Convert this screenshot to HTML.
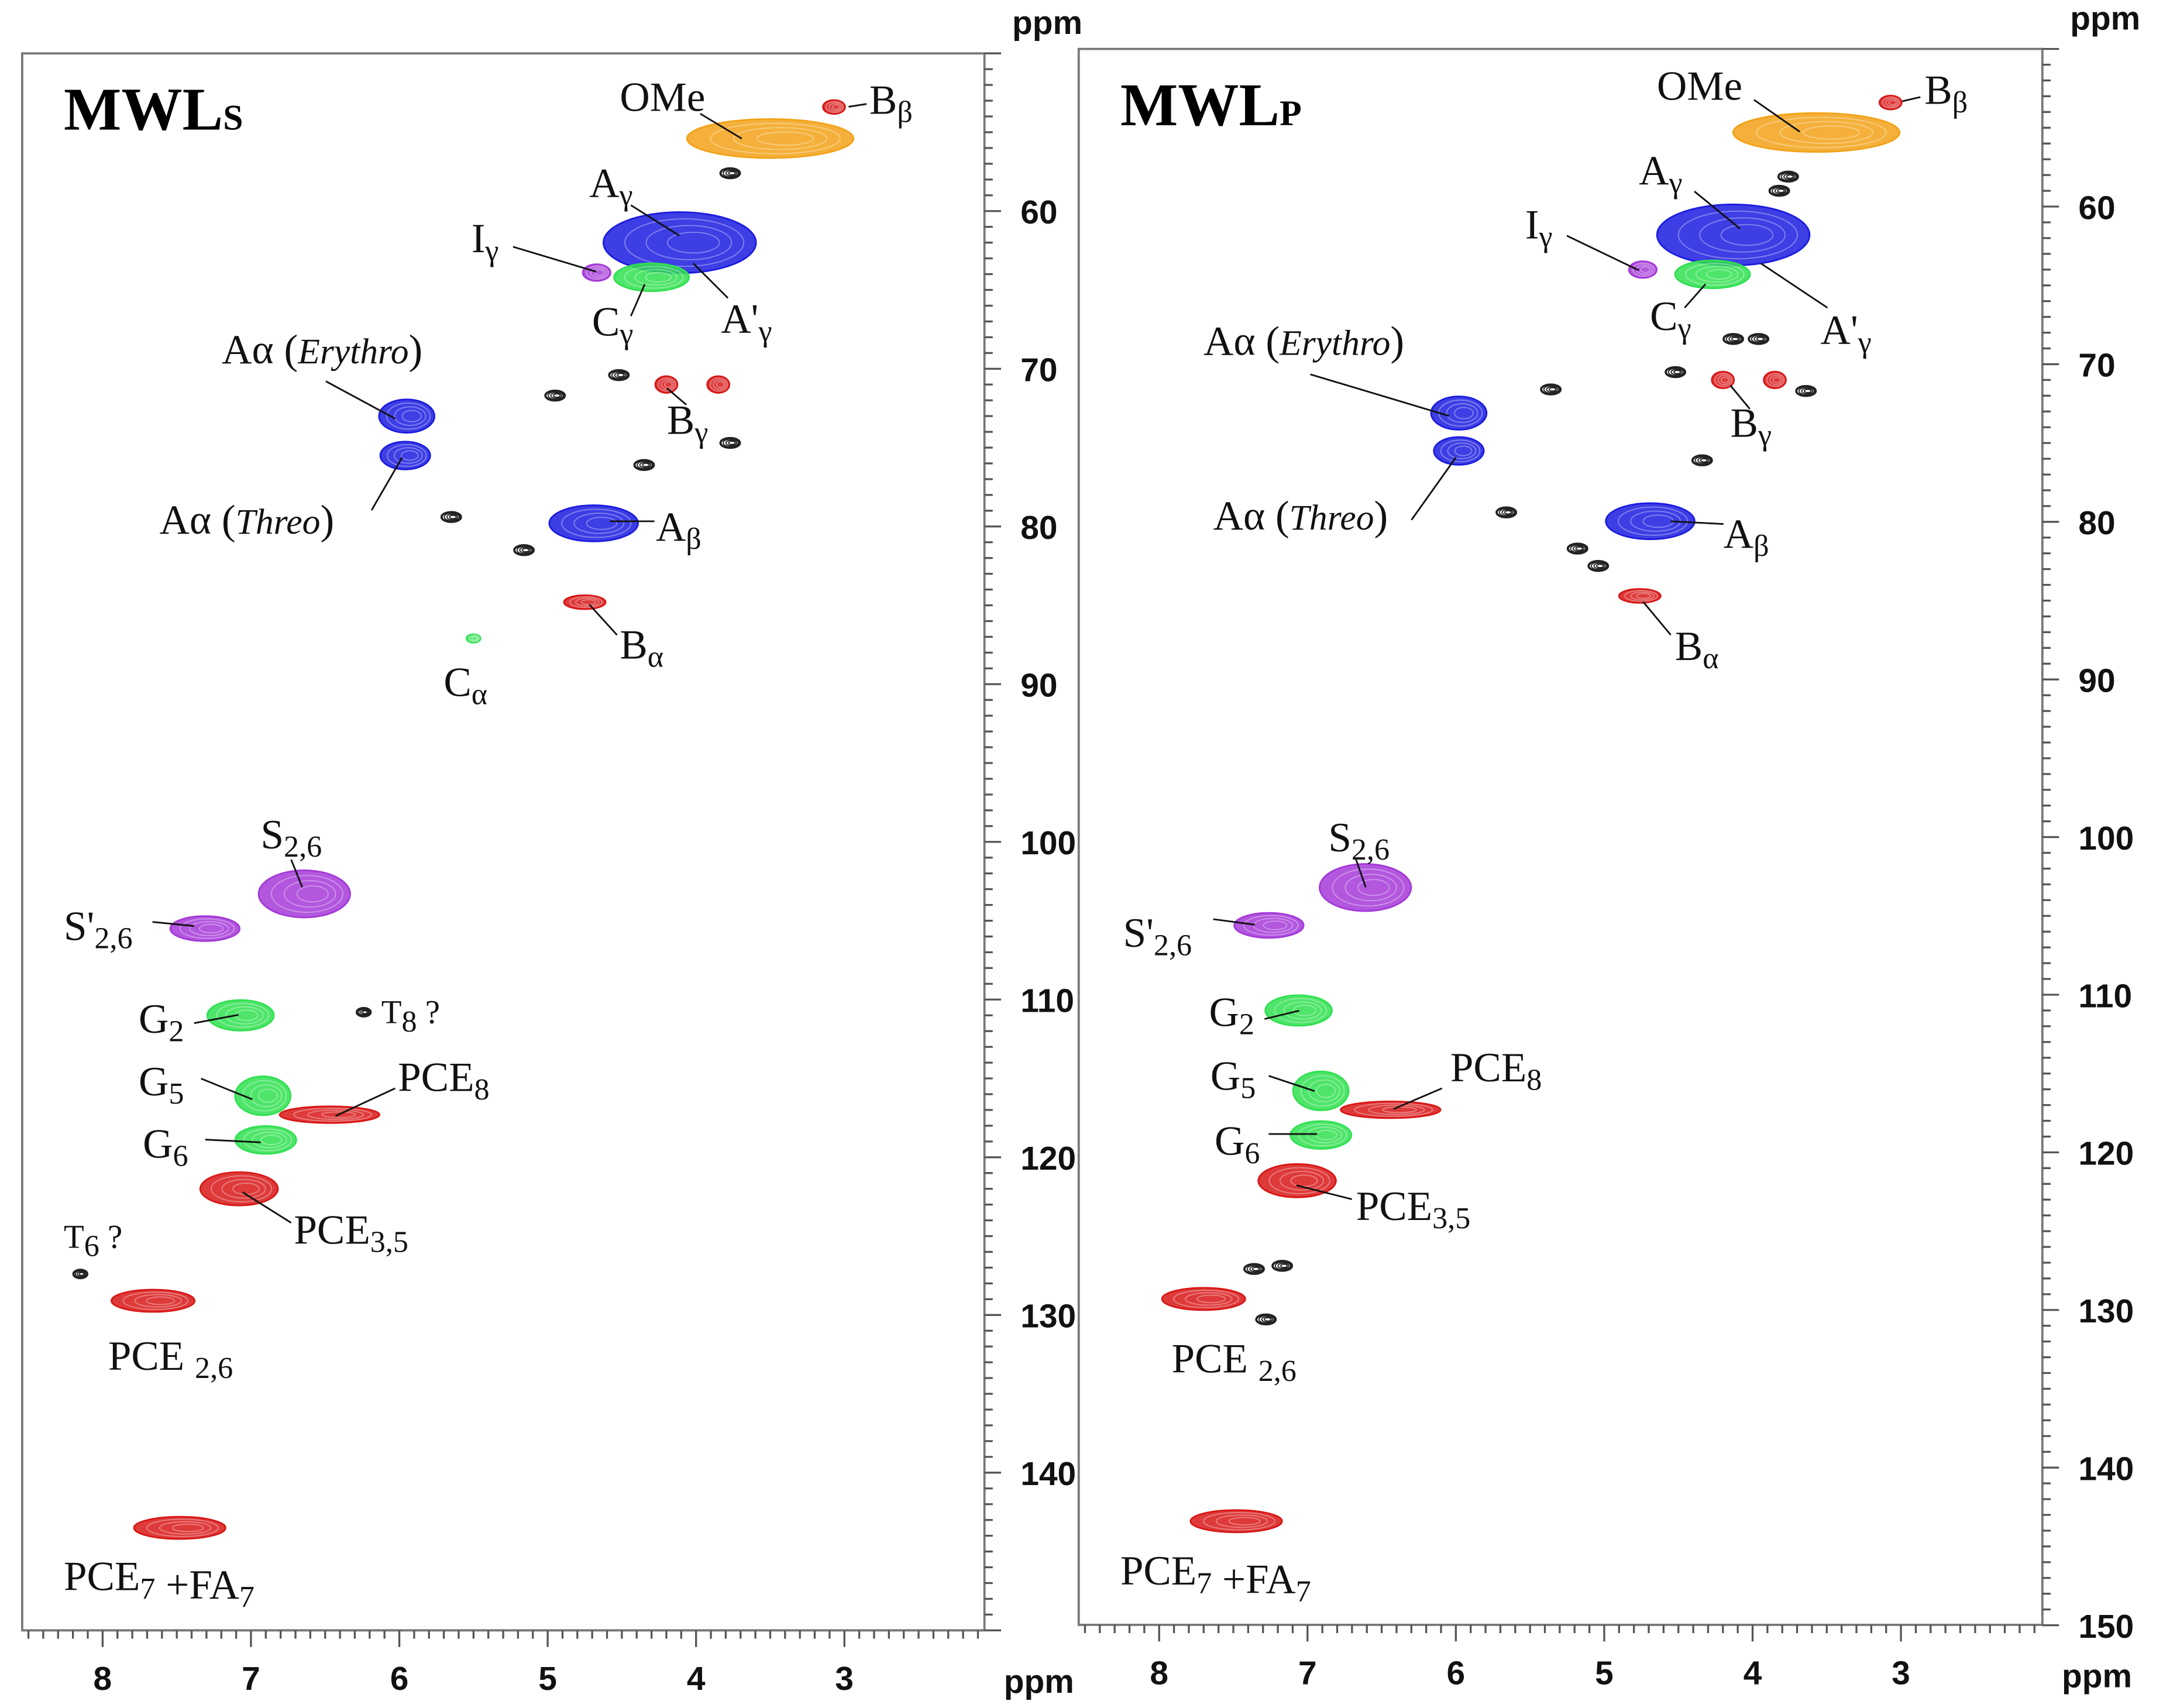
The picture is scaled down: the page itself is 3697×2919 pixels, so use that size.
<!DOCTYPE html>
<html><head><meta charset="utf-8"><style>
html,body{margin:0;padding:0;background:#fff;}
svg{display:block;}
.lb{font-family:"Liberation Serif",serif;font-size:30px;fill:#111;}
.tk{font-family:"Liberation Sans",sans-serif;font-weight:bold;font-size:24px;fill:#111;}
</style></head><body>
<svg id="fig" width="3697" height="2919" viewBox="0 0 1560 1232" preserveAspectRatio="none" xmlns="http://www.w3.org/2000/svg">
<g id="gL"></g>
<g id="gR"></g>
</svg>
<script>
// x tick labels (ppm, 1H) and y tick labels (ppm, 13C)
const xTicks = [8,7,6,5,4,3];
const yTicks = [60,70,80,90,100,110,120,130,140];
const yTicksR = [60,70,80,90,100,110,120,130,140,150];
// Left panel (MWLs) peaks: name, 1H ppm, 13C ppm, colour class
const peakNamesL = ["OMe","Bb","blk1","Ag","Ig","Cg","blk2","blk3","blk4","blk5","blk6","blk7","Bg1","Bg2","Aa1","Aa2","Ab","Ba","Ca","S26","S26p","G2","G5","G6","PCE8","PCE35","T8","T6","PCE26","PCE7"];
const peakHL = [3.50,3.07,3.77,4.11,4.67,4.30,4.52,4.95,4.35,3.77,5.65,5.16,4.20,3.85,5.95,5.96,4.69,4.75,5.50,6.64,7.31,7.07,6.92,6.90,6.47,7.08,6.24,8.15,7.66,7.48];
const peakCL = [55.4,53.4,57.6,62.0,63.9,64.2,70.4,71.7,76.1,74.7,79.4,81.5,71.0,71.0,73.0,75.5,79.8,84.8,87.1,103.3,105.5,111.0,116.1,118.9,117.3,122.0,110.8,127.4,129.1,143.5];
// Right panel (MWLp) peaks
const peakNamesR = ["OMe","Bb","blk1","blk2","Ag","Ig","Cg","blk3","blk4","blk5","blk6","blk7","blk8","blk9","blk10","blk11","Bg1","Bg2","Aa1","Aa2","Ab","Ba","S26","S26p","G2","G5","G6","PCE8","PCE35","PCE26","blk12","blk13","blk14","PCE7"];
const peakHR = [3.57,3.07,3.76,3.82,4.13,4.74,4.27,4.13,3.96,4.52,3.64,5.36,4.34,5.66,5.18,5.04,4.20,3.85,5.98,5.98,4.69,4.76,6.61,7.26,7.06,6.91,6.91,6.44,7.07,7.70,7.36,7.17,7.28,7.48];
const peakCR = [55.3,53.4,58.1,59.0,61.8,64.0,64.3,68.4,68.4,70.5,71.7,71.6,76.1,79.4,81.7,82.8,71.0,71.0,73.1,75.5,79.96,84.7,103.2,105.6,111.0,116.1,118.9,117.3,121.8,129.3,127.4,127.2,130.6,143.4];

const NS="http://www.w3.org/2000/svg";
function mk(t,a,p){const e=document.createElementNS(NS,t);for(const k in a)e.setAttribute(k,a[k]);p.appendChild(e);return e;}
const COL={b:"#1c1ce0",r:"#d81818",g:"#30e050",p:"#a43ad8",o:"#f2a218",k:"#222"};
// shape/style per peak name: [rx px, ry px, colour]
const STY={OMe:[60,14,"o"],Bb:[8,5,"r"],Ag:[55,22,"b"],Ig:[10,6,"p"],Cg:[27,10,"g"],Bg1:[8,6,"r"],Bg2:[8,6,"r"],Aa1:[20,12,"b"],Aa2:[18,10,"b"],Ab:[32,13,"b"],Ba:[15,5,"r"],Ca:[5,3,"g"],S26:[33,17,"p"],S26p:[25,9,"p"],G2:[24,11,"g"],G5:[20,14,"g"],G6:[22,10,"g"],PCE8:[36,6,"r"],PCE35:[28,12,"r"],PCE26:[30,8,"r"],PCE7:[33,8,"r"]};
function sty(n){if(STY[n])return STY[n];if(n==="T8"||n==="T6")return[5,3,"k"];return[7,3.5,"k"];}

function panel(g,P,names,H,C,yt,label,sub){
  const X=v=>P.x8+(8-v)*P.kx, Y=v=>P.y50+(v-50)*P.ky;
  const fr=mk("path",{d:`M${P.x0},${P.y0}H${P.x1}V${P.y1}H${P.x0}Z`,fill:"none",stroke:"#777","stroke-width":1.6},g);
  
  
  // bottom ticks
  for(let i=0;;i++){const v=8.5-i*0.1;const x=X(v);if(x>P.x1)break;if(x<P.x0)continue;
    const maj=Math.abs(v-Math.round(v))<0.01;
    const t=mk("line",{x1:x,x2:x,y1:P.y1,y2:P.y1+(maj?12:6),stroke:"#555","stroke-width":1.4},g);
    
    }
  xTicks.forEach(v=>{const t=mk("text",{x:X(v),y:P.y1+43,"text-anchor":"middle",class:"tk"},g);t.textContent=v;
    
    });
  // right ticks
  for(let v=50;v<=150;v++){const y=Y(v);if(y<P.y0-1||y>P.y1+1)continue;const maj=v%10===0;
    const t=mk("line",{x1:P.x1,x2:P.x1+(maj?12:6),y1:y,y2:y,stroke:"#555","stroke-width":1.4},g);
    
    }
  yt.forEach(v=>{const t=mk("text",{x:P.x1+26,y:Y(v)+9,class:"tk"},g);t.textContent=v;
    
    });
  const p1=mk("text",{x:P.x1+20,y:P.y0-14,class:"tk"},g);p1.textContent="ppm";
  
  
  const p2=mk("text",{x:P.x1+14,y:P.y1+45,class:"tk"},g);p2.textContent="ppm";
  
  
  const tt=mk("text",{x:P.x0+30,y:P.y0+55,style:"font-family:'Liberation Serif',serif;font-weight:bold;font-size:44px"},g);
  tt.innerHTML=label+'<tspan font-size="26">'+sub+'</tspan>';
  
  
  // peaks
  names.forEach((n,i)=>{const s=sty(n);const c=COL[s[2]];const cx=X(H[i]),cy=Y(C[i]);
    const pg=mk("g",{},g);
    
    
    const k=s[2]==="k";
    mk("ellipse",{cx,cy,rx:s[0],ry:s[1],fill:k?"none":c,"fill-opacity":k?0:0.85,stroke:c,"stroke-width":k?1.6:1.2},pg);
    for(let j=1;j<4;j++)mk("ellipse",{cx:cx+j*s[0]*0.06,cy,rx:s[0]*(1-j*0.22),ry:s[1]*(1-j*0.22),fill:"none",stroke:k?c:"#fff","stroke-opacity":k?1:0.35,"stroke-width":0.8},pg);
  });
}
function labels(g,L){L.forEach(a=>{const t=mk("text",{x:a[0],y:a[1],class:"lb"},g);t.innerHTML=a[2];
  
  
  if(a[3]){const l=mk("line",{x1:a[3],y1:a[4],x2:a[5],y2:a[6],stroke:"#111","stroke-width":1.2},g);
    
    }});}
const sb=s=>'<tspan font-size="22" dy="6">'+s+'</tspan>';
const PL={x0:16,x1:710,y0:38.5,y1:1176,x8:74,kx:107,y50:38.5,ky:11.375};
const PR={x0:778,x1:1473,y0:35.3,y1:1172,x8:836,kx:107,y50:35.3,ky:11.37};
const gL=document.getElementById('gL'),gR=document.getElementById('gR');
panel(gL,PL,peakNamesL,peakHL,peakCL,yTicks,"MWL","S");
panel(gR,PR,peakNamesR,peakHR,peakCR,yTicksR,"MWL","P");
labels(gL,[[447,80,"OMe",505,82,535,100],[627,82,"B"+sb("β"),612,77,625,75],[425,142,"A"+sb("γ"),455,148,490,170],[340,182,"I"+sb("γ"),370,178,430,196],[427,242,"C"+sb("γ"),455,228,465,205],[520,240,"A'"+sb("γ"),525,215,500,190],
[160,262,"Aα (<tspan font-style='italic' font-size='26'>Erythro</tspan>)",235,275,285,302],[481,313,"B"+sb("γ"),495,292,481,280],[115,385,"Aα (<tspan font-style='italic' font-size='26'>Threo</tspan>)",268,368,290,330],
[473,390,"A"+sb("β"),472,376,440,376],[447,475,"B"+sb("α"),445,458,425,436],[320,502,"C"+sb("α")],[188,612,"S"+sb("2,6"),210,620,218,640],[46,678,"S'"+sb("2,6"),110,665,140,668],
[100,745,"G"+sb("2"),140,738,172,732],[275,738,"<tspan font-size='24'>T</tspan>"+sb("8")+"<tspan font-size='24' dy='-6'> ?</tspan>"],[100,790,"G"+sb("5"),145,778,182,793],[287,787,"PCE"+sb("8"),285,785,242,805],
[103,835,"G"+sb("6"),148,822,188,824],[212,897,"PCE"+sb("3,5"),210,882,175,860],[46,900,"<tspan font-size='24'>T</tspan>"+sb("6")+"<tspan font-size='24' dy='-6'> ?</tspan>"],[78,988,"PCE "+sb("2,6")],[46,1147,"PCE"+sb("7")+" +FA"+sb("7")]]);
labels(gR,[[1195,72,"OMe",1265,72,1298,95],[1388,75,"B"+sb("β"),1372,73,1385,70],[1182,133,"A"+sb("γ"),1222,138,1255,165],[1100,172,"I"+sb("γ"),1130,170,1182,195],[1190,238,"C"+sb("γ"),1215,222,1230,205],[1313,248,"A'"+sb("γ"),1318,222,1270,190],
[868,256,"Aα (<tspan font-style='italic' font-size='26'>Erythro</tspan>)",945,270,1045,300],[1248,315,"B"+sb("γ"),1262,295,1248,278],[875,382,"Aα (<tspan font-style='italic' font-size='26'>Threo</tspan>)",1018,375,1050,330],
[1243,395,"A"+sb("β"),1243,378,1205,376],[1208,476,"B"+sb("α"),1205,458,1185,434],[958,614,"S"+sb("2,6"),978,620,985,640],[810,683,"S'"+sb("2,6"),875,663,905,667],
[872,740,"G"+sb("2"),912,735,937,729],[873,786,"G"+sb("5"),915,776,948,787],[1046,780,"PCE"+sb("8"),1040,785,1005,800],[876,833,"G"+sb("6"),915,818,950,818],[978,880,"PCE"+sb("3,5"),975,865,935,855],
[845,990,"PCE "+sb("2,6")],[808,1143,"PCE"+sb("7")+" +FA"+sb("7")]]);
</script>
</body></html>
